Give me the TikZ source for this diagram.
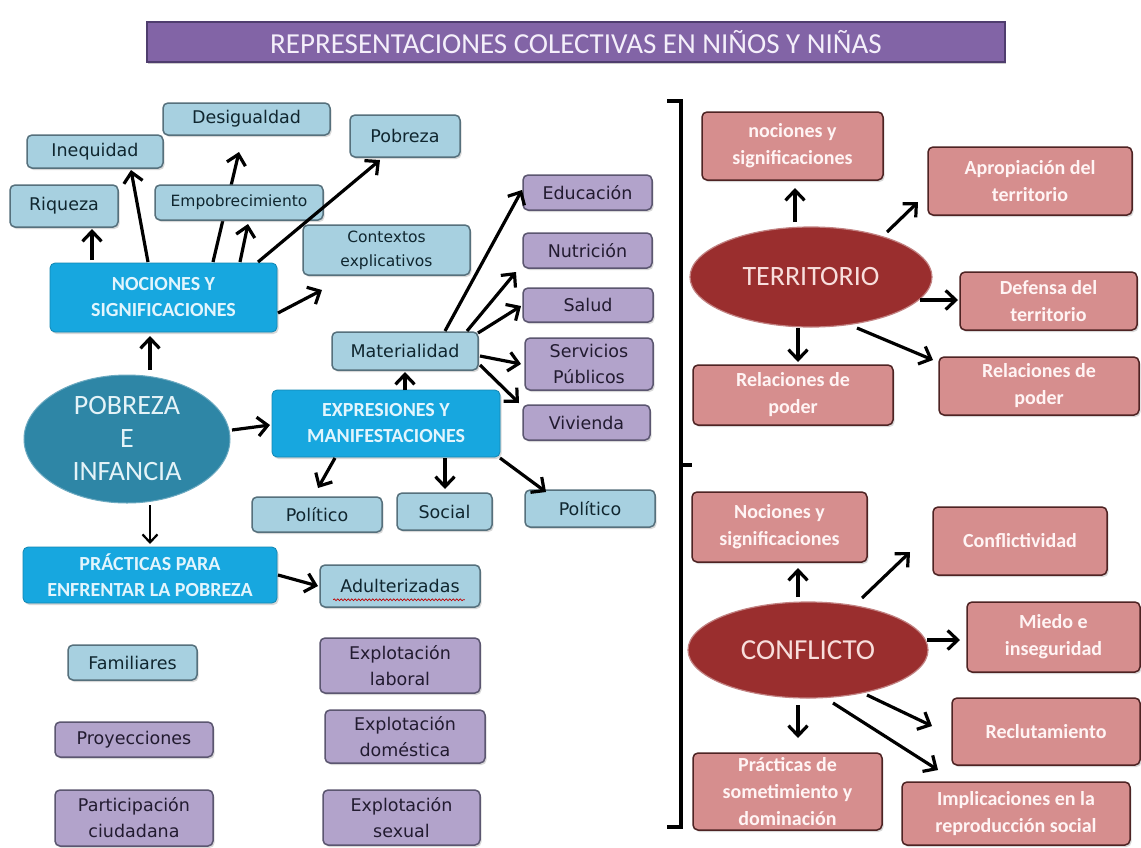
\documentclass[tikz,border=0pt]{standalone}
\usepackage{fontspec}
\setmainfont{Carlito}
\newfontfamily\vfont{DejaVu Sans}
\usetikzlibrary{shapes.geometric,arrows.meta,calc,shadows,decorations.pathmorphing}
\definecolor{lbF}{HTML}{A7D0E0}
\definecolor{lbB}{HTML}{56707C}
\definecolor{lbT}{HTML}{10262F}
\definecolor{puF}{HTML}{B2A3CB}
\definecolor{puB}{HTML}{5B5670}
\definecolor{puT}{HTML}{221B30}
\definecolor{bbF}{HTML}{17A7DF}
\definecolor{bbT}{HTML}{E2F5FD}
\definecolor{tealF}{HTML}{2E86A6}
\definecolor{tealT}{HTML}{E4F3F8}
\definecolor{rdF}{HTML}{D68E8E}
\definecolor{rdB}{HTML}{4E2323}
\definecolor{rdT}{HTML}{FFF4F4}
\definecolor{elR}{HTML}{9A2E2E}
\definecolor{elT}{HTML}{F8DEDC}
\definecolor{titF}{HTML}{8264A6}
\definecolor{titB}{HTML}{4F3D6E}
\definecolor{titT}{HTML}{F4EFFA}
\newcommand\bx[7]{\node[#2, minimum width={#5-#3}, minimum height={#6-#4}] (#1) at ({(#3+#5)/2},{(#4+#6)/2}) {#7};}
\newcommand\conn[5][]{\draw[arr,#1] ($(#2)+(#3)$) -- ($(#4)+(#5)$);}
\begin{document}
\begin{tikzpicture}[x=1pt,y=-1pt,
  shad/.style={drop shadow={opacity=0.3,shadow xshift=1.5pt,shadow yshift=-2pt}},
  boxbase/.style={rounded corners=5pt, line width=1.5pt, inner sep=0pt, align=center, shad},
  lb/.style={boxbase, draw=lbB, fill=lbF, text=lbT, font=\vfont\fontsize{17.5}{26}\selectfont},
  lbs/.style={lb, font=\vfont\fontsize{15.5}{24}\selectfont},
  pu/.style={boxbase, draw=puB, fill=puF, text=puT, font=\vfont\fontsize{17.5}{26}\selectfont},
  bb/.style={boxbase, draw=bbF!80!black, line width=0.8pt, fill=bbF, text=bbT, font=\bfseries\fontsize{20}{26}\selectfont},
  rd/.style={boxbase, draw=rdB, fill=rdF, text=rdT, font=\bfseries\fontsize{20}{27}\selectfont},
  elli/.style={ellipse, inner sep=0pt, align=center},
  arr/.style={-{Straight Barb[length=10pt,width=19pt,line width=3.2pt]}, line width=3.2pt, black},
  arrthin/.style={-{Straight Barb[length=8pt,width=15pt]}, line width=2.2pt, black},
  brk/.style={line width=3.5pt, black}
]
\useasboundingbox (0,0) rectangle (1141,847);
\fill[white] (0,0) rectangle (1141,847);

% title
\bx{title}{draw=titB, line width=1.5pt, fill=titF, text=titT, inner sep=0pt, font=\fontsize{29}{32}\selectfont, drop shadow={opacity=0.4,shadow xshift=1pt,shadow yshift=-2pt}}{147}{22}{1005}{62}{REPRESENTACIONES COLECTIVAS EN NIÑOS Y NIÑAS}

% ---------- left part ----------
\bx{riq}{lb}{10}{185}{118}{227}{Riqueza}
\bx{ineq}{lb}{27}{135}{163}{168}{Inequidad}
\bx{desig}{lb}{163}{103}{330}{135}{Desigualdad}
\bx{pob}{lb}{350}{115}{460}{157}{Pobreza}
\bx{nocs}{bb}{50}{263}{277}{332}{NOCIONES Y\\SIGNIFICACIONES}
\conn{nocs}{49.5,-35.5}{desig}{-7.5,33}
\bx{empob}{lbs}{155}{185}{323}{220}{Empobrecimiento}
\bx{ctx}{lbs}{303}{225}{470}{275}{Contextos\\explicativos}

\bx{mat}{lb}{332}{332}{478}{370}{Materialidad}
\bx{edu}{pu}{523}{175}{652}{210}{Educación}
\bx{nut}{pu}{523}{233}{652}{268}{Nutrición}
\bx{sal}{pu}{523}{288}{653}{322}{Salud}
\bx{serv}{pu}{525}{338}{653}{390}{Servicios\\Públicos}
\bx{viv}{pu}{523}{405}{650}{440}{Vivienda}
\bx{expr}{bb}{272}{390}{500}{457}{EXPRESIONES Y\\MANIFESTACIONES}
\bx{pol1}{lb}{252}{497}{382}{532}{Político}
\bx{soc}{lb}{397}{493}{492}{530}{Social}
\bx{pol2}{lb}{525}{490}{655}{527}{Político}

\node[elli, fill=tealF, draw=tealF!70!white, line width=1pt, text=tealT, minimum width=206pt, minimum height=128pt, font=\fontsize{28}{33}\selectfont] (pobinf) at (127,439) {POBREZA\\E\\INFANCIA};

\bx{pract}{bb}{23}{547}{277}{603}{PRÁCTICAS PARA\\ENFRENTAR LA POBREZA}
\bx{adul}{lb}{320}{565}{480}{607}{Adulterizadas}
\draw[red!75!black, line width=0.7pt, decorate, decoration={snake, amplitude=0.9pt, segment length=3.5pt}] ($(adul.south west)+(14,-8)$) -- ($(adul.south east)+(-16,-8)$);

\bx{fam}{lb}{68}{645}{197}{680}{Familiares}
\bx{proy}{pu}{55}{722}{213}{757}{Proyecciones}
\bx{part}{pu}{55}{790}{213}{846}{Participación\\ciudadana}
\bx{exlab}{pu}{320}{638}{480}{693}{Explotación\\laboral}
\bx{exdom}{pu}{325}{710}{485}{763}{Explotación\\doméstica}
\bx{exsex}{pu}{323}{790}{480}{845}{Explotación\\sexual}

% arrows left
\conn{nocs}{-71.5,-37.5}{riq}{28,23}
\conn{nocs}{-15.5,-35.5}{ineq}{36,18.5}
\conn{nocs}{76.5,-35.5}{empob}{9,21.5}
\conn{nocs}{94.5,-35.5}{pob}{-25,24}
\conn{nocs}{114.5,15.5}{ctx}{-64.5,40}
\conn{pobinf}{23,-69}{nocs}{-13.5,38.5}
\conn{pobinf}{105,-9}{expr}{-116,1.5}
\draw[arrthin] ($(pobinf)+(23,66)$) -- ($(pract)+(0,-31)$);
\conn{pract}{128,0}{adul}{-82,0}
\conn{expr}{19,-33.5}{mat}{0,21}
\conn{mat}{40,-20}{edu}{-65.5,-2.5}
\conn{mat}{62,-20}{nut}{-71.5,21.5}
\conn{mat}{73,-18}{sal}{-67,1}
\conn{mat}{75,5}{serv}{-68,0}
\conn{mat}{75,14}{viv}{-67.5,-19.5}
\conn{expr}{-51,34.5}{pol1}{1,-26.5}
\conn{expr}{59,34.5}{soc}{0.5,-22.5}
\conn{expr}{114,34.5}{pol2}{-44,-16.5}

% ---------- bracket ----------
\draw[brk] (667,101) -- (681,101) -- (681,827) -- (667,827);
\draw[brk] (681,465) -- (692,465);

% ---------- territorio ----------
\node[elli, fill=elR, draw=elR!60!white, line width=1.2pt, text=elT, minimum width=242pt, minimum height=100pt, font=\fontsize{28}{32}\selectfont] (terr) at (811,277) {TERRITORIO};
\bx{tnoc}{rd}{702}{112}{883}{180}{nociones y\\significaciones}
\bx{tapr}{rd}{928}{147}{1132}{215}{Apropiación del\\territorio}
\bx{tdef}{rd}{960}{272}{1137}{330}{Defensa del\\territorio}
\bx{trel1}{rd}{693}{365}{893}{425}{Relaciones de\\poder}
\bx{trel2}{rd}{939}{357}{1139}{415}{Relaciones de\\poder}
\conn{terr}{-16,-55}{tnoc}{2.5,42}
\conn{terr}{76,-45}{tapr}{-112,21}
\conn{terr}{109,23}{tdef}{-90.5,-1}
\conn{terr}{-13,51}{trel1}{5,-33}
\conn{terr}{46,51}{trel2}{-106,-26}

% ---------- conflicto ----------
\node[elli, fill=elR, draw=elR!60!white, line width=1.2pt, text=elT, minimum width=240pt, minimum height=96pt, font=\fontsize{29}{32}\selectfont] (conf) at (808,650) {CONFLICTO};
\bx{cnoc}{rd}{692}{492}{867}{562}{Nociones y\\significaciones}
\bx{cconf}{rd}{933}{507}{1107}{575}{Conflictividad}
\bx{cmie}{rd}{967}{602}{1140}{672}{Miedo e\\inseguridad}
\bx{crec}{rd}{952}{698}{1140}{765}{Reclutamiento}
\bx{cprac}{rd}{693}{753}{882}{830}{Prácticas de\\sometimiento y\\dominación}
\bx{cimp}{rd}{902}{782}{1130}{845}{Implicaciones en la\\reproducción social}
\conn{conf}{-10,-53}{cnoc}{18.5,41}
\conn{conf}{54,-52}{cconf}{-110,11}
\conn{conf}{119,-10}{cmie}{-93.5,3}
\conn{conf}{-10,55}{cprac}{10.5,-53.5}
\conn{conf}{59,45}{crec}{-114,-5.5}
\conn{conf}{25,53}{cimp}{-78,-43.5}
\end{tikzpicture}
\end{document}
